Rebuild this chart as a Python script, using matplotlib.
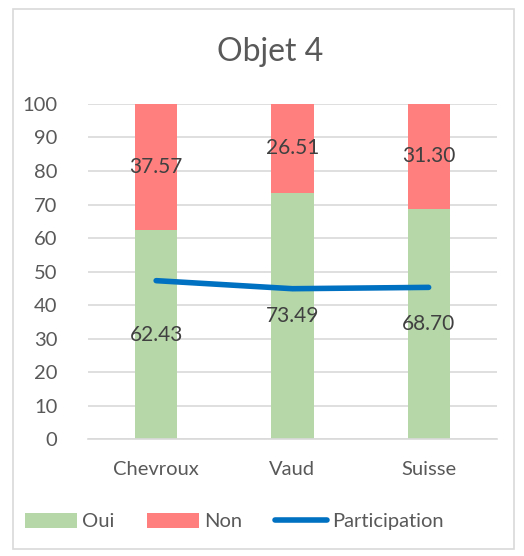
import matplotlib
matplotlib.use("Agg")
import matplotlib.pyplot as plt
from matplotlib.patches import Rectangle
import numpy as np

categories = ["Chevroux", "Vaud", "Suisse"]
oui = [62.43, 73.49, 68.70]
non = [37.57, 26.51, 31.30]
participation = [47.3, 44.9, 45.3]
yticks = [0, 10, 20, 30, 40, 50, 60, 70, 80, 90, 100]

plt.rcParams['font.family'] = ['Lato', 'DejaVu Sans']
txt = '#595959'

fig = plt.figure(figsize=(5.24, 5.56), dpi=100)
fig.patches.append(Rectangle((0.025, 0.012), 0.955, 0.972, transform=fig.transFigure,
                             fill=False, edgecolor='#D9D9D9', linewidth=1.2))
ax = fig.add_axes([0.168, 0.210, 0.780, 0.603])

x = np.arange(len(categories))
w = 0.31
b1 = ax.bar(x, oui, w, color='#B6D7A8', label='Oui', zorder=2)
b2 = ax.bar(x, non, w, bottom=oui, color='#FF7F7F', label='Non', zorder=2)
ln, = ax.plot(x, participation, color='#0070C0', linewidth=4, solid_capstyle='round',
              label='Participation', zorder=3)

for i in range(len(categories)):
    ax.text(x[i], oui[i] / 2, f"{oui[i]:.2f}", ha='center', va='center', fontsize=15, color='#404040', zorder=4)
    ax.text(x[i], oui[i] + non[i] / 2, f"{non[i]:.2f}", ha='center', va='center', fontsize=15, color='#404040', zorder=4)

ax.set_xlim(-0.5, 2.5)
ax.set_ylim(0, 100)
ax.set_yticks(yticks)
ax.set_xticks(x)
ax.set_xticklabels(categories)
ax.tick_params(axis='both', length=0, labelsize=14.5, colors=txt)
ax.tick_params(axis='x', pad=16)
ax.tick_params(axis='y', pad=22)
for lbl in ax.get_yticklabels():
    lbl.set_horizontalalignment('right')
ax.yaxis.grid(True, color='#D9D9D9', linewidth=1.2, zorder=0)
ax.set_axisbelow(True)
for s in ['top', 'right', 'left']:
    ax.spines[s].set_visible(False)
ax.spines['bottom'].set_color('#D9D9D9')
ax.spines['bottom'].set_linewidth(1.2)

fig.text(0.515, 0.907, "Objet 4", ha='center', va='center', fontsize=23, color=txt)

fig.legend(handles=[b1, b2, ln], labels=['Oui', 'Non', 'Participation'],
           loc='center', bbox_to_anchor=(0.447, 0.062), ncol=3, frameon=False,
           fontsize=14.5, labelcolor=txt, handlelength=2.6, handleheight=0.8,
           columnspacing=1.6, handletextpad=0.25)

fig.savefig("out.png", dpi=100)
